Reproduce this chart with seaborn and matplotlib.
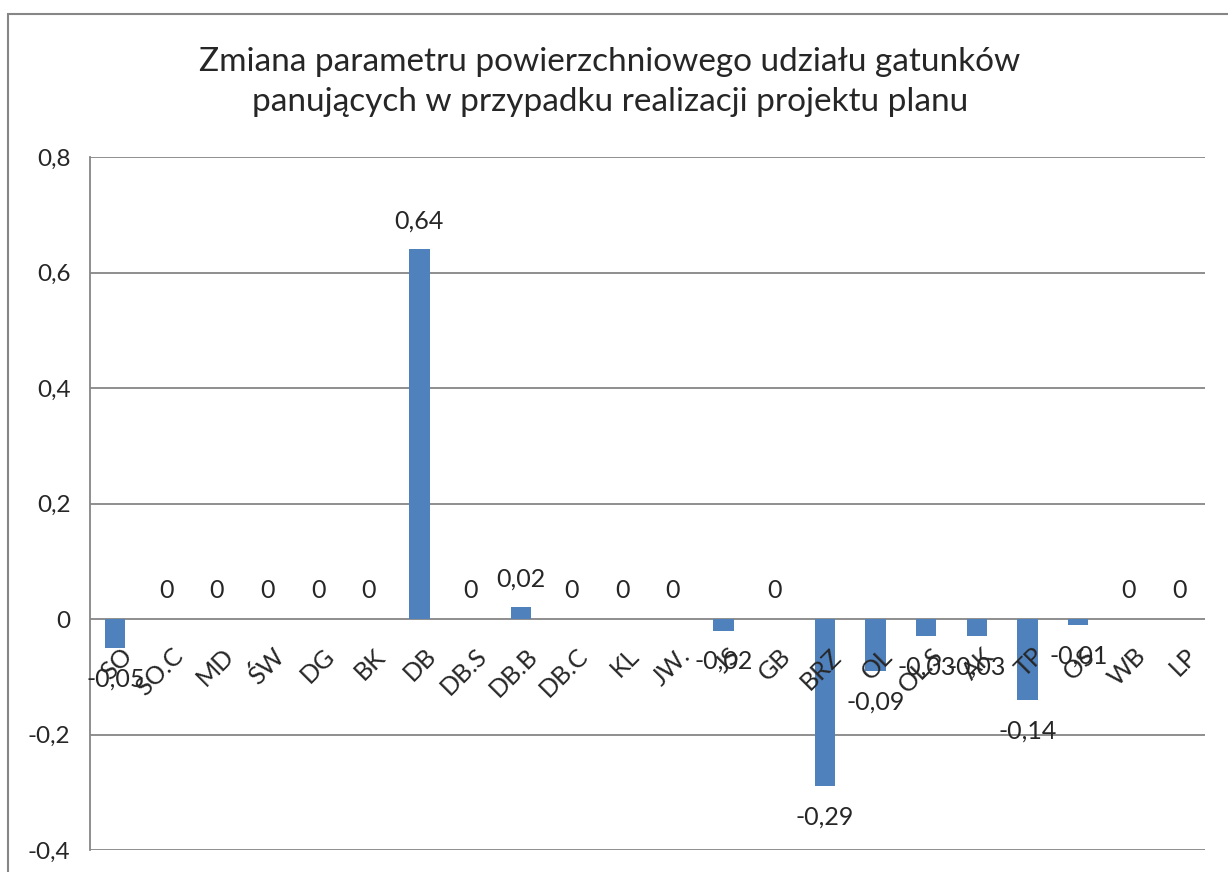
import matplotlib
matplotlib.use("Agg")
import matplotlib.pyplot as plt
import matplotlib.transforms as mtransforms
from matplotlib.patches import Rectangle
import seaborn as sns
import pandas as pd

categories = ["SO", "SO.C", "MD", "ŚW", "DG", "BK", "DB", "DB.S", "DB.B", "DB.C",
              "KL", "JW.", "JS", "GB", "BRZ", "OL", "OL.S", "AK", "TP", "OS", "WB", "LP"]
values = [-0.05, 0, 0, 0, 0, 0, 0.64, 0, 0.02, 0, 0, 0, -0.02, 0, -0.29, -0.09,
          -0.03, -0.03, -0.14, -0.01, 0, 0]
yticks = [-0.4, -0.2, 0, 0.2, 0.4, 0.6, 0.8]
title = "Zmiana parametru powierzchniowego udziału gatunków\npanujących w przypadku realizacji projektu planu"

sns.set_theme(style="white")
plt.rcParams["font.family"] = ["Lato", "DejaVu Sans"]

W, H = 1228, 872
fig = plt.figure(figsize=(W / 100, H / 100), dpi=100)
ax = fig.add_axes([90 / W, 1 - 850 / H, (1205 - 90) / W, (850 - 157) / H])

df = pd.DataFrame({"cat": categories, "val": values})
sns.barplot(data=df, x="cat", y="val", color="#4F81BD", width=0.4, ax=ax,
            saturation=1, errorbar=None, linewidth=0)

ax.set_ylim(-0.4, 0.8)
ax.set_xlim(-0.5, len(categories) - 0.5)
ax.set_yticks(yticks)
ax.set_yticklabels([("%g" % t).replace(".", ",") for t in yticks], fontsize=17.5)
ax.tick_params(axis="y", length=0, pad=14)
ax.grid(axis="y", color="#868686", linewidth=1.3)
ax.set_axisbelow(True)
for s in ["top", "right", "bottom"]:
    ax.spines[s].set_visible(False)
ax.spines["left"].set_color("#868686")
ax.spines["left"].set_linewidth(1.3)
ax.set_xlabel("")
ax.set_ylabel("")
ax.set_xticks([])

# category labels rotated, placed below zero line
for i, c in enumerate(categories):
    tr = mtransforms.offset_copy(ax.transData, fig=fig, x=5, y=-25, units="dots")
    ax.text(i, 0, c, transform=tr, rotation=45, ha="right", va="top",
            rotation_mode="anchor", fontsize=18)

# data labels
for i, v in enumerate(values):
    lab = ("%g" % v).replace(".", ",")
    if v >= 0:
        tr = mtransforms.offset_copy(ax.transData, fig=fig, x=0, y=28, units="dots")
    else:
        tr = mtransforms.offset_copy(ax.transData, fig=fig, x=0, y=-31, units="dots")
    ax.text(i, v, lab, transform=tr, ha="center", va="center", fontsize=18)

fig.text(610 / W, 1 - 82 / H, title, ha="center", va="center", fontsize=24,
         linespacing=1.45)

fig.patches.append(Rectangle((8 / W, -0.05), 1.1, (1 - 14 / H) + 0.05,
                             transform=fig.transFigure, fill=False,
                             edgecolor="#868686", linewidth=1.5, clip_on=False))

fig.savefig("out.png", dpi=100, facecolor="white")
